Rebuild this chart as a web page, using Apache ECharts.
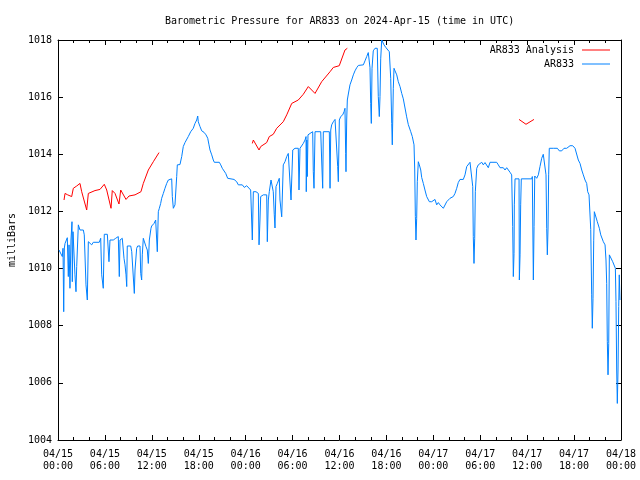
<!DOCTYPE html>
<html>
<head>
<meta charset="utf-8">
<script src="https://cdn.jsdelivr.net/npm/echarts@6/dist/echarts.min.js"></script>
<style>
html,body{margin:0;padding:0;background:#fff;}
#chart{width:640px;height:480px;}
</style>
</head>
<body>
<div id="chart"></div>
<script>
// Hours since 2024-04-15 00:00 UTC
const blueHours = [
0.13,0.55,0.64,0.73,0.81,0.90,1.19,1.32,1.41,1.53,
1.66,1.79,1.83,1.92,2.08,2.17,2.30,2.39,2.60,2.81,
3.03,3.24,3.36,3.58,3.75,3.88,4.09,4.31,4.51,5.28,
5.46,5.59,5.79,5.92,6.31,6.52,6.65,7.07,7.38,7.71,
7.84,7.93,8.22,8.35,8.44,8.57,8.70,8.79,8.86,9.30,
9.43,9.63,9.76,9.85,10.06,10.19,10.49,10.58,10.70,10.78,
10.91,11.13,11.25,11.42,11.55,11.68,11.89,11.98,12.28,12.49,
12.62,12.70,12.83,12.96,13.13,13.26,13.47,13.68,13.90,14.11,
14.32,14.54,14.62,14.75,14.96,15.18,15.26,15.60,15.82,16.02,
16.24,16.46,16.66,16.97,17.30,17.52,17.74,17.87,17.94,18.16,
18.38,18.67,18.93,19.15,19.31,19.44,19.66,19.86,19.99,20.63,
20.81,21.01,21.23,21.45,21.70,21.91,22.51,22.85,23.06,23.57,
23.83,24.13,24.34,24.64,24.81,24.85,24.98,25.32,25.62,25.71,
25.83,25.92,26.26,26.69,26.77,26.90,27.02,27.24,27.46,27.53,
27.66,27.75,27.88,28.05,28.30,28.39,28.61,28.81,29.03,29.25,
29.45,29.67,29.80,30.02,30.31,30.73,30.82,30.95,31.17,31.37,
31.59,31.72,31.75,31.82,31.88,31.97,32.23,32.57,32.65,32.74,
32.87,33.60,33.72,33.85,33.93,34.70,34.79,34.88,35.00,35.21,
35.43,35.64,35.77,35.85,35.98,36.15,36.41,36.58,36.70,36.79,
36.83,36.92,37.00,37.13,37.34,37.56,37.77,37.98,38.20,38.41,
39.05,39.26,39.48,39.68,39.81,39.90,39.99,40.07,40.16,40.32,
40.54,40.83,40.96,41.09,41.18,41.27,41.40,41.53,41.69,41.95,
42.11,42.37,42.55,42.68,42.75,42.88,42.97,43.10,43.32,43.52,
43.74,43.96,44.16,44.38,44.59,44.80,45.11,45.31,45.53,45.62,
45.70,45.78,45.87,45.95,46.08,46.21,46.39,46.51,46.72,46.93,
47.15,47.49,47.79,48.00,48.21,48.43,48.64,48.85,49.07,49.28,
49.49,49.71,49.91,50.13,50.35,50.55,50.77,50.99,51.19,51.41,
51.83,52.05,52.27,52.47,52.69,52.91,53.04,53.11,53.20,53.29,
53.37,53.55,53.75,53.97,54.19,54.39,54.61,54.83,55.03,55.25,
56.10,56.31,56.53,56.95,57.17,57.38,57.59,57.81,58.02,58.10,
58.15,58.23,58.32,58.36,58.45,58.96,59.00,59.09,59.17,59.25,
60.58,60.66,60.79,60.88,60.97,61.22,61.43,61.64,61.86,62.06,
62.28,62.41,62.50,62.58,62.67,62.75,62.83,63.34,63.56,63.86,
64.11,64.42,64.71,65.06,65.48,65.82,66.12,66.34,66.54,66.76,
66.98,67.18,67.40,67.61,67.74,67.91,68.04,68.13,68.25,68.33,
68.42,68.51,68.59,68.81,68.97,69.23,69.41,69.74,69.96,70.08,
70.17,70.25,70.34,70.43,70.51,70.69,70.94,71.15,71.28,71.36,
71.45,71.53,71.62,71.71,71.78,71.87
];
const bluePressure = [
1010.65,1010.42,1010.71,1008.49,1010.72,1010.88,1011.08,1009.72,1010.83,1009.31,
1011.00,1011.64,1009.54,1011.29,1011.29,1009.78,1009.19,1010.07,1011.53,1011.35,
1011.29,1011.35,1011.18,1009.43,1008.90,1010.94,1010.94,1010.83,1010.92,1010.92,
1011.06,1009.78,1009.31,1011.20,1011.20,1010.24,1011.00,1011.00,1011.06,1011.12,
1009.72,1011.00,1011.06,1011.00,1010.36,1010.13,1009.78,1009.37,1010.79,1010.79,
1010.59,1010.55,1009.13,1009.95,1010.71,1010.79,1010.79,1009.83,1009.60,1010.48,
1011.06,1011.06,1010.77,1010.65,1010.18,1011.00,1011.41,1011.49,1011.58,1011.70,
1011.76,1010.59,1011.99,1012.11,1012.28,1012.46,1012.63,1012.81,1012.98,1013.10,
1013.14,1013.14,1012.52,1012.11,1012.23,1013.22,1013.63,1013.64,1013.92,1014.27,
1014.41,1014.44,1014.62,1014.79,1014.91,1015.08,1015.20,1015.34,1015.14,1014.97,
1014.82,1014.77,1014.68,1014.56,1014.33,1014.15,1013.98,1013.80,1013.72,1013.72,
1013.63,1013.51,1013.45,1013.33,1013.16,1013.12,1013.12,1013.04,1012.93,1012.93,
1012.84,1012.90,1012.84,1012.75,1012.72,1011.00,1012.69,1012.69,1012.63,1010.83,
1011.70,1012.52,1012.58,1012.58,1010.94,1012.40,1012.69,1013.10,1013.10,1012.69,
1011.88,1011.42,1012.87,1012.98,1013.16,1012.40,1011.81,1013.63,1013.74,1013.92,
1014.03,1014.09,1012.40,1014.15,1014.21,1014.21,1012.75,1014.21,1014.27,1014.38,
1014.50,1014.62,1012.69,1014.50,1013.22,1014.68,1014.73,1014.79,1013.39,1012.81,
1014.79,1014.79,1013.80,1012.81,1014.79,1014.79,1012.81,1014.85,1015.03,1015.14,
1015.22,1015.22,1013.57,1013.04,1015.20,1015.32,1015.38,1015.49,1015.61,1014.03,
1013.39,1015.20,1015.90,1016.11,1016.43,1016.60,1016.78,1016.92,1017.03,1017.11,
1017.13,1017.27,1017.42,1017.56,1017.63,1017.03,1015.78,1015.08,1017.01,1017.62,
1017.71,1017.71,1016.02,1015.32,1016.02,1017.34,1018.00,1017.94,1017.83,1017.73,
1017.69,1017.59,1016.66,1015.08,1014.33,1016.31,1017.01,1016.92,1016.78,1016.54,
1016.37,1016.13,1015.94,1015.62,1015.31,1015.04,1014.79,1014.62,1014.33,1013.45,
1011.82,1011.00,1011.76,1013.04,1013.74,1013.63,1013.45,1013.19,1012.98,1012.75,
1012.52,1012.34,1012.34,1012.40,1012.42,1012.23,1012.31,1012.23,1012.17,1012.11,
1012.11,1012.34,1012.40,1012.46,1012.49,1012.52,1012.63,1012.81,1013.01,1013.12,
1013.12,1013.28,1013.57,1013.63,1013.72,1013.72,1012.87,1011.12,1010.18,1011.06,
1012.69,1013.51,1013.63,1013.63,1013.72,1013.63,1013.71,1013.72,1013.53,1013.72,
1013.72,1013.63,1013.53,1013.53,1013.45,1013.53,1013.51,1013.37,1013.28,1013.25,
1011.47,1009.72,1010.53,1012.23,1013.14,1013.14,1009.60,1010.48,1012.23,1013.14,
1013.14,1013.22,1009.60,1011.47,1013.24,1013.16,1013.28,1013.57,1013.86,1014.00,
1014.00,1013.28,1011.41,1010.48,1011.42,1013.28,1014.21,1014.21,1014.15,1014.21,
1014.12,1014.12,1014.21,1014.21,1014.30,1014.30,1014.21,1014.21,1013.80,1013.68,
1013.45,1013.28,1013.10,1012.98,1012.69,1012.58,1012.52,1011.37,1009.08,1007.91,
1008.96,1010.97,1011.99,1011.93,1011.64,1011.41,1011.18,1010.94,1010.83,1010.30,
1009.48,1007.44,1006.28,1007.38,1010.48,1010.42,1010.24,1010.18,1010.01,1008.84,
1006.45,1005.28,1006.45,1008.67,1009.78,1008.90
];
const redHours = [
0.77,0.90,1.24,1.75,1.96,2.39,2.81,3.03,3.67,3.88,4.73,5.37,5.92,6.23,6.78,6.94,
7.29,7.80,8.02,8.70,9.08,9.85,10.61,10.91,11.55,12.19,12.92,
18.00,
24.85,24.98,25.71,25.92,26.69,27.02,27.53,27.97,28.81,29.25,29.89,30.73,31.37,
32.01,32.87,33.72,34.79,35.21,35.97,36.70,37.00,
48.00,
58.96,59.20,59.85,60.87
];
const redPressure = [
1012.40,1012.63,1012.58,1012.52,1012.81,1012.89,1012.98,1012.69,1012.05,1012.63,1012.73,1012.77,1012.95,1012.75,1012.11,1012.73,
1012.63,1012.26,1012.75,1012.42,1012.54,1012.58,1012.69,1012.98,1013.45,1013.74,1014.06,
null,
1014.38,1014.50,1014.15,1014.27,1014.41,1014.62,1014.70,1014.91,1015.14,1015.38,1015.78,1015.90,1016.10,
1016.37,1016.13,1016.54,1016.89,1017.04,1017.10,1017.65,1017.71,
null,
1015.22,1015.17,1015.05,1015.22
];
const seriesNames = ['AR833 Analysis', 'AR833'];
const titleText = 'Barometric Pressure for AR833 on 2024-Apr-15 (time in UTC)';
const yAxisTitle = 'milliBars';
const dayLabels = ['04/15', '04/16', '04/17', '04/18'];

const FONT = 'DejaVu Sans Mono';
const toPairs = (xs, ys) => xs.map((x, i) => [x, ys[i] === null ? '-' : ys[i]]);

const chart = echarts.init(document.getElementById('chart'), null, {renderer: 'canvas'});

const xFmt = v => {
  const d = Math.floor(v / 24 + 1e-9);
  const h = Math.round(v - d * 24);
  return dayLabels[d] + '\n' + String(h).padStart(2, '0') + ':00';
};

const baseX = {
  type: 'value', min: 0, max: 72, interval: 6,
  axisLine: {show: true, onZero: false, lineStyle: {color: '#000', width: 1}},
  axisTick: {show: true, inside: true, length: 5, lineStyle: {color: '#000'}},
  minorTick: {show: true, splitNumber: 3, length: 3, lineStyle: {color: '#000'}},
  splitLine: {show: false}, minorSplitLine: {show: false}
};
const baseY = {
  type: 'value', min: 1004, max: 1018, interval: 2,
  axisLine: {show: true, onZero: false, lineStyle: {color: '#000', width: 1}},
  axisTick: {show: true, inside: true, length: 5, lineStyle: {color: '#000'}},
  splitLine: {show: false}
};

const legendCommon = {
  orient: 'horizontal', align: 'right', padding: 0,
  icon: 'rect', itemWidth: 28, itemHeight: 1, selectedMode: false,
  textStyle: {fontFamily: FONT, fontSize: 10, color: '#000', padding: [0, 3, 0, 0]}
};

chart.setOption({
  animation: false,
  backgroundColor: '#fff',
  title: {
    text: titleText, left: 160, top: 11,
    textStyle: {fontFamily: FONT, fontSize: 10, fontWeight: 'normal', color: '#000'}
  },
  legend: [
    Object.assign({}, legendCommon, {data: [seriesNames[0]], right: 30, top: 45}),
    Object.assign({}, legendCommon, {data: [seriesNames[1]], right: 30, top: 59})
  ],
  grid: {left: 58, right: 19, top: 40, bottom: 40, containLabel: false, outerBoundsMode: 'none'},
  xAxis: [
    Object.assign({}, baseX, {
      position: 'bottom',
      axisLabel: {show: true, margin: 8, formatter: xFmt, fontFamily: FONT, fontSize: 10, color: '#000', lineHeight: 12,
        showMinLabel: true, showMaxLabel: true, hideOverlap: false}
    }),
    Object.assign({}, baseX, {position: 'top', axisLabel: {show: false}})
  ],
  yAxis: [
    Object.assign({}, baseY, {
      position: 'left',
      name: yAxisTitle, nameLocation: 'middle', nameRotate: 90, nameGap: 40,
      nameTextStyle: {fontFamily: FONT, fontSize: 10, color: '#000'},
      axisLabel: {show: true, margin: 6, formatter: v => String(v), fontFamily: FONT, fontSize: 10, color: '#000'}
    }),
    Object.assign({}, baseY, {position: 'right', axisLabel: {show: false}})
  ],
  series: [
    {
      name: seriesNames[0], type: 'line', xAxisIndex: 0, yAxisIndex: 0,
      data: toPairs(redHours, redPressure), showSymbol: false, symbol: 'none',
      connectNulls: false, clip: true,
      lineStyle: {color: '#ff0000', width: 1}, itemStyle: {color: '#ff0000'}
    },
    {
      name: seriesNames[1], type: 'line', xAxisIndex: 0, yAxisIndex: 0,
      data: toPairs(blueHours, bluePressure), showSymbol: false, symbol: 'none',
      clip: true,
      lineStyle: {color: '#0080ff', width: 1}, itemStyle: {color: '#0080ff'}
    }
  ]
});
</script>
</body>
</html>
